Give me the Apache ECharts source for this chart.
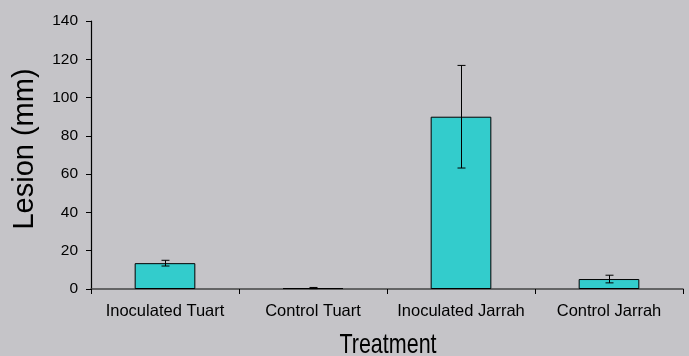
<!DOCTYPE html>
<html><head><meta charset="utf-8">
<script src="https://cdn.jsdelivr.net/npm/echarts@6/dist/echarts.min.js"></script>
<style>html,body{margin:0;padding:0;background:#c5c4c8;}#c{width:689px;height:356px;}</style>
</head><body><div id="c"></div>
<script>
const categories = ['Inoculated Tuart', 'Control Tuart', 'Inoculated Jarrah', 'Control Jarrah'];
const lesion = [13.5, 0.5, 90, 5.2];
const errors = [1.5, 0.3, 26.8, 2.0];
const yTicks = [0, 20, 40, 60, 80, 100, 120, 140];
const xTitle = 'Treatment';
const yTitle = 'Lesion (mm)';

const chart = echarts.init(document.getElementById('c'));
const font = 'Liberation Sans, Arial, sans-serif';
chart.setOption({
  backgroundColor: '#c5c4c8',
  animation: false,
  grid: { left: 91, right: 6, top: 21, bottom: 67 },
  xAxis: {
    type: 'category', data: categories,
    axisLine: { lineStyle: { color: '#444', width: 1.5 } },
    axisTick: { show: true, length: 5, lineStyle: { color: '#000' } },
    axisLabel: { fontSize: 16.5, color: '#000', fontFamily: font, margin: 14,
      interval: 0, hideOverlap: false }
  },
  yAxis: {
    type: 'value', min: 0, max: 140, interval: 20,
    axisLine: { show: true, lineStyle: { color: '#000', width: 1.2 } },
    axisTick: { show: true, length: 5, lineStyle: { color: '#000' } },
    axisLabel: { fontSize: 15.5, color: '#000', fontFamily: font, margin: 13,
      formatter: v => yTicks.includes(v) ? String(v) : '' },
    splitLine: { show: false }
  },
  graphic: [
    { type: 'text', x: 388, y: 345, scaleY: 1.3,
      style: { text: xTitle, font: '21.5px ' + font, fill: '#000', align: 'center', verticalAlign: 'middle' } },
    { type: 'text', x: 25, y: 149, rotation: Math.PI / 2,
      style: { text: yTitle, font: '29px ' + font, fill: '#000', align: 'center', verticalAlign: 'middle' } }
  ],
  series: [
    {
      type: 'bar', data: lesion, barWidth: '41%',
      itemStyle: { color: '#33cccc', borderColor: '#000', borderWidth: 1 }
    },
    {
      type: 'custom',
      data: lesion.map((v, i) => [i, v - errors[i], v + errors[i]]),
      renderItem: (params, api) => {
        const lo = api.coord([api.value(0), api.value(1)]);
        const hi = api.coord([api.value(0), api.value(2)]);
        const x = Math.round(lo[0]) + 0.5, hw = 4;
        const st = { stroke: '#000', lineWidth: 1 };
        return { type: 'group', children: [
          { type: 'line', shape: { x1: x, y1: lo[1], x2: x, y2: hi[1] }, style: st },
          { type: 'line', shape: { x1: x - hw, y1: lo[1], x2: x + hw, y2: lo[1] }, style: st },
          { type: 'line', shape: { x1: x - hw, y1: hi[1], x2: x + hw, y2: hi[1] }, style: st }
        ]};
      },
      z: 10
    }
  ]
});
</script></body></html>
